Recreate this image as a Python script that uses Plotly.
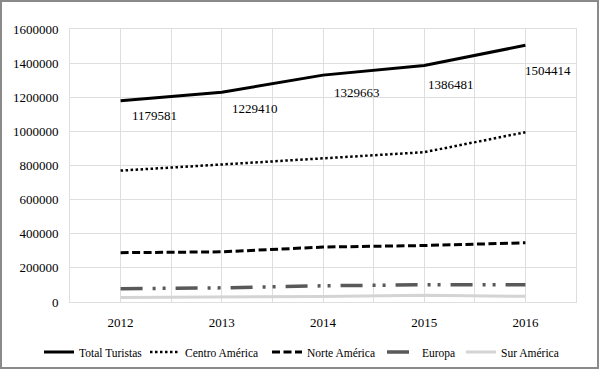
import plotly.graph_objects as go

years = [2012, 2013, 2014, 2015, 2016]
total_turistas = [1179581, 1229410, 1329663, 1386481, 1504414]
centro_america = [770000, 806000, 845000, 878000, 995000]
norte_america = [289000, 294000, 322000, 331000, 347000]
europa = [78000, 83000, 95000, 101000, 101000]
sur_america = [27000, 28000, 32000, 40000, 33000]
y_ticks = [0, 200000, 400000, 600000, 800000, 1000000, 1200000, 1400000, 1600000]
series_names = ["Total Turistas", "Centro América", "Norte América", "Europa", "Sur América"]

FONT = '"Liberation Serif", "Times New Roman", serif'
GRID = "#dedede"

L, R, T, B = 70, 24, 29, 68
W, H = 600, 370
pw, ph = W - L - R, H - T - B

# legend text start positions in pixels (layout only)
legend_text_px = [79, 185, 307, 422, 501]
legend_ids = ["legend", "legend2", "legend3", "legend4", "legend5"]

styles = [
    dict(color="#000000", width=3),
    dict(color="#000000", width=2.5, dash="2.5px,2.5px"),
    dict(color="#000000", width=3, dash="8px,3.5px"),
    dict(color="#595959", width=3.5, dash="22px,10px,3px,7px,3px,10px"),
    dict(color="#d4d4d4", width=3),
]
values = [total_turistas, centro_america, norte_america, europa, sur_america]

fig = go.Figure()
for name, vals, st, lid in zip(series_names, values, styles, legend_ids):
    fig.add_trace(go.Scatter(x=years, y=vals, name=name, mode="lines", line=st, legend=lid))

# data labels for Total Turistas (Excel-like offsets)
label_dx = [34, 33, 34, 27, 23]
label_dy = [15, 16, 17, 19, 25]
for xv, yv, dx, dy in zip(years, total_turistas, label_dx, label_dy):
    fig.add_annotation(x=xv, y=yv, text=str(yv), showarrow=False,
                       xanchor="center", yanchor="middle", xshift=dx, yshift=-dy,
                       font=dict(family=FONT, size=13, color="#000000"))

# outer border
fig.add_shape(type="rect", xref="paper", yref="paper",
              x0=(1 - L) / pw, x1=(598 - L) / pw,
              y0=(H - B - 368) / ph, y1=(H - B - 1) / ph,
              line=dict(color="#8a8a8a", width=2), layer="above")

legend_y = (H - B - 352) / ph
layout_legends = {}
for lid, tx in zip(legend_ids, legend_text_px):
    layout_legends[lid] = dict(
        orientation="h", xref="paper", yref="paper",
        x=(tx - 40 - L) / pw, xanchor="left", y=legend_y, yanchor="middle",
        font=dict(family=FONT, size=11.5, color="#000000"),
        itemwidth=30, bgcolor="rgba(0,0,0,0)", borderwidth=0,
    )

fig.update_layout(
    width=W, height=H,
    margin=dict(l=L, r=R, t=T, b=B, autoexpand=False),
    paper_bgcolor="white", plot_bgcolor="white",
    font=dict(family=FONT, size=13, color="#000000"),
    showlegend=True,
    **layout_legends,
)
fig.update_xaxes(
    range=[2011.5, 2016.5], tickmode="array", tickvals=years,
    ticktext=[str(y) for y in years],
    showgrid=True, gridcolor=GRID, gridwidth=1,
    minor=dict(dtick=0.5, tick0=2011.5, showgrid=True, gridcolor=GRID, gridwidth=1),
    showline=True, linecolor=GRID, mirror=True, zeroline=False,
    ticks="", ticklabelstandoff=8, tickfont=dict(family=FONT, size=13, color="#000000"),
    automargin=False, fixedrange=True,
)
fig.update_yaxes(
    range=[0, 1600000], tickmode="array", tickvals=y_ticks,
    ticktext=[str(v) for v in y_ticks],
    showgrid=True, gridcolor=GRID, gridwidth=1,
    showline=True, linecolor=GRID, mirror=True, zeroline=False,
    ticks="", ticklabelstandoff=8, tickfont=dict(family=FONT, size=13, color="#000000"),
    automargin=False, fixedrange=True,
)

fig.write_html(
    "out.html",
    config={"displayModeBar": False},
    post_script="document.body.style.margin='0';document.body.style.overflow='hidden';",
)
